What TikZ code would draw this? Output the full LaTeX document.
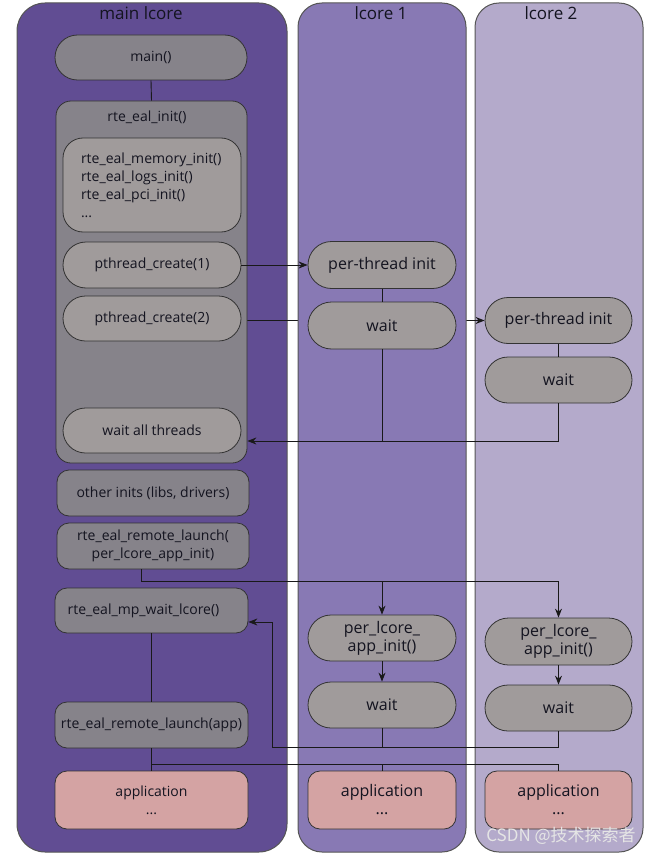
\documentclass[tikz,border=0pt]{standalone}
\usepackage{fontspec}
\setmainfont{Open Sans}
\newfontfamily\cjkfont{Noto Sans CJK SC}
\usetikzlibrary{arrows.meta,shapes.misc}
\pgfdeclarelayer{lanesA}
\pgfdeclarelayer{under}
\pgfdeclarelayer{laneB}
\pgfdeclarelayer{cont}
\pgfsetlayers{lanesA,under,laneB,cont,main}
\definecolor{laneMain}{HTML}{614D93}
\definecolor{laneOne}{HTML}{8879B4}
\definecolor{laneTwo}{HTML}{B4AACB}
\definecolor{laneEdge}{HTML}{555555}
\definecolor{nodeEdge}{HTML}{333333}
\definecolor{darkGray}{HTML}{86838A}
\definecolor{lightGray}{HTML}{A09B9B}
\definecolor{appPink}{HTML}{D4A3A3}
\definecolor{txt}{HTML}{141420}
\tikzset{
  lane/.style={draw=laneEdge, line width=1pt, rounded corners=28pt, minimum height=849pt, inner sep=0pt},
  lanetitle/.style={font=\fontsize{17}{20}\selectfont, text=txt, inner sep=0pt},
  pillA/.style={rounded rectangle, draw=nodeEdge, line width=0.8pt, fill=darkGray, inner sep=0pt, text=txt, font=\fontsize{14}{18}\selectfont, align=center},
  pillB/.style={pillA, fill=lightGray},
  pillC/.style={pillA, fill=lightGray, font=\fontsize{16}{18}\selectfont},
  boxA/.style={rectangle, rounded corners=12pt, draw=nodeEdge, line width=0.8pt, fill=darkGray, inner sep=0pt, text=txt, font=\fontsize{14}{18}\selectfont, align=center},
  appbox/.style={boxA, fill=appPink},
  conn/.style={draw=black!90, line width=0.9pt},
  arr/.style={conn, -{Stealth[length=9pt,width=7pt,inset=3pt]}}
}
\begin{document}
\begin{tikzpicture}[x=1pt,y=-1pt]
\useasboundingbox (0,0) rectangle (663,856);
% lanes
\begin{pgfonlayer}{lanesA}
\fill[white] (0,0) rectangle (663,856);
\node[lane, fill=laneMain, minimum width=270pt] (laneM) at (152,427.5) {};
\node[lane, fill=laneTwo, minimum width=168pt, rounded corners=24pt] (lane2) at (559,427.5) {};
\end{pgfonlayer}
\begin{pgfonlayer}{laneB}
\node[lane, fill=laneOne, minimum width=168pt, rounded corners=24pt] (lane1) at (382,427.5) {};
\end{pgfonlayer}
\node[lanetitle] (tM) at (141,13) {main lcore};
\node[lanetitle] (t1) at (381,13) {lcore 1};
\node[lanetitle] (t2) at (551,13) {lcore 2};
% main lane
\node[pillA, minimum width=192pt, minimum height=45pt] (mainf) at (151,57.5) {main()};
\begin{pgfonlayer}{cont}
\node[boxA, rounded corners=15pt, minimum width=191pt, minimum height=362pt] (rte) at (151.5,282) {};
\end{pgfonlayer}
\node[text=txt, font=\fontsize{14}{18}\selectfont, inner sep=0pt] (rtet) at (147,117) {rte\_eal\_init()};
\node[boxA, fill=lightGray, rounded corners=20pt, minimum width=178pt, minimum height=94pt, text width=142pt, align=left] (lst) at (152,185)
  {rte\_eal\_memory\_init()\\rte\_eal\_logs\_init()\\rte\_eal\_pci\_init()\\...};
\node[pillB, minimum width=178pt, minimum height=46pt] (pc1) at (152,265) {pthread\_create(1)};
\node[pillB, minimum width=178pt, minimum height=45pt] (pc2) at (152,318.5) {pthread\_create(2)};
\node[pillB, minimum width=178pt, minimum height=45pt] (wat) at (152,430.5) {wait all threads};
\node[boxA, minimum width=192pt, minimum height=46pt] (oth) at (153,493) {other inits (libs, drivers)};
\node[boxA, minimum width=192pt, minimum height=46pt] (rl1) at (153,546) {rte\_eal\_remote\_launch(\\per\_lcore\_app\_init)};
\node[boxA, minimum width=193pt, minimum height=45pt] (mpw) at (151.5,610.5) {rte\_eal\_mp\_wait\_lcore()\hspace*{16pt}};
\node[boxA, minimum width=193pt, minimum height=46pt] (ral) at (151.5,725) {rte\_eal\_remote\_launch(app)};
\node[appbox, minimum width=193pt, minimum height=58pt] (app0) at (151.5,800) {application\\...};
% lane 1
\node[pillC, minimum width=148pt, minimum height=47pt] (pti1) at (382,265) {per-thread init};
\node[pillC, minimum width=148pt, minimum height=47pt] (w1) at (382,325.5) {wait};
\node[pillC, minimum width=148pt, minimum height=46pt] (pla1) at (382,638) {per\_lcore\_\\app\_init()};
\node[pillC, minimum width=148pt, minimum height=46pt] (w1b) at (382,705) {wait};
\node[appbox, font=\fontsize{16}{18}\selectfont, minimum width=148pt, minimum height=58pt] (app1) at (382,800) {application\\...};
% lane 2
\node[pillC, minimum width=147pt, minimum height=46pt] (pti2) at (558.5,320.5) {per-thread init};
\node[pillC, minimum width=147pt, minimum height=46pt] (w2) at (558.5,380) {wait};
\node[pillC, minimum width=147pt, minimum height=47pt] (pla2) at (558.5,641.5) {per\_lcore\_\\app\_init()};
\node[pillC, minimum width=147pt, minimum height=46pt] (w2b) at (558.5,708) {wait};
\node[appbox, font=\fontsize{16}{18}\selectfont, minimum width=147pt, minimum height=58pt] (app2) at (558.5,800) {application\\...};
% connectors
\draw[conn] (mainf.south) -- (rte.north);
\draw[arr] (pc1.east) -- (pti1.west);
\begin{pgfonlayer}{under}
\draw[arr] (pc2.east |- pti2.west) -- (pti2.west);
\end{pgfonlayer}
\draw[conn] (pti1.south) -- (w1.north);
\draw[conn] (pti2.south) -- (w2.north);
\coordinate (j1) at (w1.south |- 0,441);
\draw[conn] (w2.south) |- (j1);
\draw[arr] (w1.south) -- (j1) -- (j1 -| rte.east);
\path ([xshift=-12pt]rl1.south) coordinate (r0);
\coordinate (j2) at (r0 |- 0,581);
\draw[conn] (r0) -- (j2) -- (j2 -| pla2.north);
\draw[arr] (j2 -| pla1.north) -- (pla1.north);
\draw[arr] (j2 -| pla2.north) -- (pla2.north);
\draw[arr] (pla1.south) -- (w1b.north);
\draw[arr] (pla2.south) -- (w2b.north);
\coordinate (j3) at (w1b.south |- 0,747);
\coordinate (k1) at (272,747);
\coordinate (k2) at (272,622);
\draw[conn] (w2b.south) |- (j3);
\draw[arr] (w1b.south) -- (j3) -- (k1) -- (k2) -- (k2 -| mpw.east);
\draw[conn] (mpw.south) -- (ral.north);
\draw[conn] (ral.south) -- (app0.north);
\coordinate (j4) at (ral.south |- 0,764);
\draw[conn] (j4) -- (j4 -| app2.north) -- (app2.north);
\draw[conn] (j4 -| app1.north) -- (app1.north);
% watermark
\node[font=\cjkfont\fontsize{17}{20}\selectfont, text=white!80!gray, inner sep=0pt] (wm) at (561,836) {CSDN @技术探索者};
\end{tikzpicture}
\end{document}
